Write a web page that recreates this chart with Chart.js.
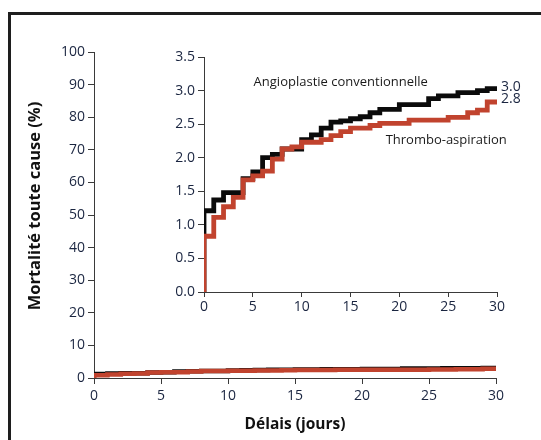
<!DOCTYPE html>
<html>
<head>
<meta charset="utf-8">
<script src="https://cdn.jsdelivr.net/npm/chart.js@4"></script>
<style>
  body { margin: 0; background: #fff; }
  #wrap { position: relative; width: 541px; height: 440px; overflow: hidden; }
  #frame { position: absolute; left: 8px; top: 12px; width: 540px; height: 440px;
           border-left: 3px solid #1e1e1e; border-top: 3px solid #1e1e1e; }
  canvas { position: absolute; }
  #mainChart { left: 0; top: 0; }
  #insetChart { left: 150px; top: 40px; }
</style>
</head>
<body>
<div id="wrap">
  <div id="frame"></div>
  <canvas id="mainChart" width="541" height="440"></canvas>
  <canvas id="insetChart" width="391" height="280"></canvas>
</div>
<script>
// jours ou la courbe change de palier, et mortalite cumulee (%)
const angioDays = [0, 0, 1, 2, 4, 5, 6, 7, 8, 10, 11, 12, 13, 14, 15, 16, 17, 18, 20, 23, 24, 26, 28, 29, 30];
const angioValues = [0, 1.21, 1.37, 1.48, 1.69, 1.79, 2.0, 2.05, 2.13, 2.27, 2.34, 2.44, 2.53, 2.55, 2.58, 2.61, 2.67, 2.72, 2.79, 2.88, 2.92, 2.97, 3.0, 3.03, 3.03];

const thromboDays = [0, 0, 1, 2, 3, 4, 5, 6, 7, 8, 9, 10, 12, 13, 14, 15, 17, 18, 21, 25, 27, 28, 29, 30];
const thromboValues = [0, 0.83, 1.11, 1.27, 1.41, 1.67, 1.73, 1.80, 1.98, 2.13, 2.16, 2.23, 2.27, 2.33, 2.39, 2.44, 2.48, 2.51, 2.56, 2.60, 2.67, 2.71, 2.83, 2.83];

const seriesNames = ['Angioplastie conventionnelle', 'Thrombo-aspiration'];
const endLabels = ['3.0', '2.8'];

const mainYTicks = [0, 10, 20, 30, 40, 50, 60, 70, 80, 90, 100];
const xTicks = [0, 5, 10, 15, 20, 25, 30];
const insetYTicks = [0, 0.5, 1.0, 1.5, 2.0, 2.5, 3.0, 3.5];

const blackColor = '#0b0b0b';
const redColor = '#c1432e';
const tickColor = '#1a2540';
const axisColor = '#3a3a3a';
const tickFont = { family: 'Open Sans', size: 14 };

function toPoints(days, values) {
    return days.map((d, i) => ({ x: d, y: values[i] }));
}

// red drawn first so it sits on top of the black line
function makeDatasets(width) {
    return [
        {
            label: seriesNames[1],
            data: toPoints(thromboDays, thromboValues),
            borderColor: redColor,
            borderWidth: width,
            stepped: 'before',
            pointRadius: 0,
            fill: false
        },
        {
            label: seriesNames[0],
            data: toPoints(angioDays, angioValues),
            borderColor: blackColor,
            borderWidth: width,
            stepped: 'before',
            pointRadius: 0,
            fill: false
        }
    ];
}

function axisX(height, tickLen, pad, title) {
    return {
        type: 'linear',
        min: 0,
        max: 30,
        afterBuildTicks: scale => { scale.ticks = xTicks.map(v => ({ value: v })); },
        afterFit: scale => { scale.height = height; },
        grid: { drawOnChartArea: false, drawTicks: true, tickLength: tickLen, color: axisColor },
        border: { display: true, color: axisColor, width: 1 },
        ticks: { color: tickColor, font: tickFont, padding: pad, maxRotation: 0 },
        title: title
    };
}

function axisY(width, max, ticksList, decimals) {
    return {
        type: 'linear',
        min: 0,
        max: max,
        afterBuildTicks: scale => { scale.ticks = ticksList.map(v => ({ value: v })); },
        afterFit: scale => { scale.width = width; },
        grid: { drawOnChartArea: false, drawTicks: true, tickLength: 6, color: axisColor },
        border: { display: true, color: axisColor, width: 1 },
        ticks: {
            color: tickColor,
            font: tickFont,
            padding: 3,
            callback: v => decimals ? Number(v).toFixed(decimals) : String(v)
        }
    };
}

// titre vertical, un peu au-dessus du centre de l'axe
const yTitle = {
    id: 'yTitle',
    afterDraw(chart) {
        const ctx = chart.ctx;
        ctx.save();
        ctx.translate(35, 206);
        ctx.rotate(-Math.PI / 2);
        ctx.fillStyle = '#111';
        ctx.font = 'bold 16.5px "Open Sans"';
        ctx.textAlign = 'center';
        ctx.textBaseline = 'middle';
        ctx.fillText('Mortalité toute cause (%)', 0, 0);
        ctx.restore();
    }
};

// grand graphique 0-100 %
new Chart(document.getElementById('mainChart'), {
    type: 'line',
    data: { datasets: makeDatasets(4.5) },
    options: {
        responsive: false,
        animation: false,
        layout: { padding: { left: 0, top: 52, right: 45, bottom: 0 } },
        plugins: { legend: { display: false }, tooltip: { enabled: false } },
        scales: {
            x: axisX(62, 6, 4, {
                display: true,
                text: 'Délais (jours)',
                color: '#111',
                font: { family: 'Open Sans', size: 15.5, weight: 'bold' },
                padding: { top: 0, bottom: 6 }
            }),
            y: axisY(94, 100, mainYTicks, 0)
        }
    },
    plugins: [yTitle]
});

// textes de l'encart
const insetLabels = {
    id: 'insetLabels',
    afterDatasetsDraw(chart) {
        const { ctx, scales: { x, y } } = chart;
        ctx.save();
        ctx.fillStyle = '#1a1a1a';
        ctx.font = '13px "Open Sans"';
        ctx.textBaseline = 'middle';
        ctx.textAlign = 'center';
        ctx.fillText(seriesNames[0], x.getPixelForValue(14), y.getPixelForValue(3.13));
        ctx.fillText(seriesNames[1], x.getPixelForValue(24.8), y.getPixelForValue(2.26));
        ctx.textAlign = 'left';
        ctx.fillStyle = tickColor;
        ctx.font = '14px "Open Sans"';
        ctx.fillText(endLabels[0], x.getPixelForValue(30) + 4, y.getPixelForValue(3.05));
        ctx.fillText(endLabels[1], x.getPixelForValue(30) + 4, y.getPixelForValue(2.87));
        ctx.restore();
    }
};

new Chart(document.getElementById('insetChart'), {
    type: 'line',
    data: { datasets: makeDatasets(4.8) },
    options: {
        responsive: false,
        animation: false,
        layout: { padding: { left: 0, top: 17, right: 44, bottom: 0 } },
        plugins: { legend: { display: false }, tooltip: { enabled: false } },
        scales: {
            x: axisX(28, 5, 2, { display: false }),
            y: axisY(54, 3.5, insetYTicks, 1)
        }
    },
    plugins: [insetLabels]
});
</script>
</body>
</html>
